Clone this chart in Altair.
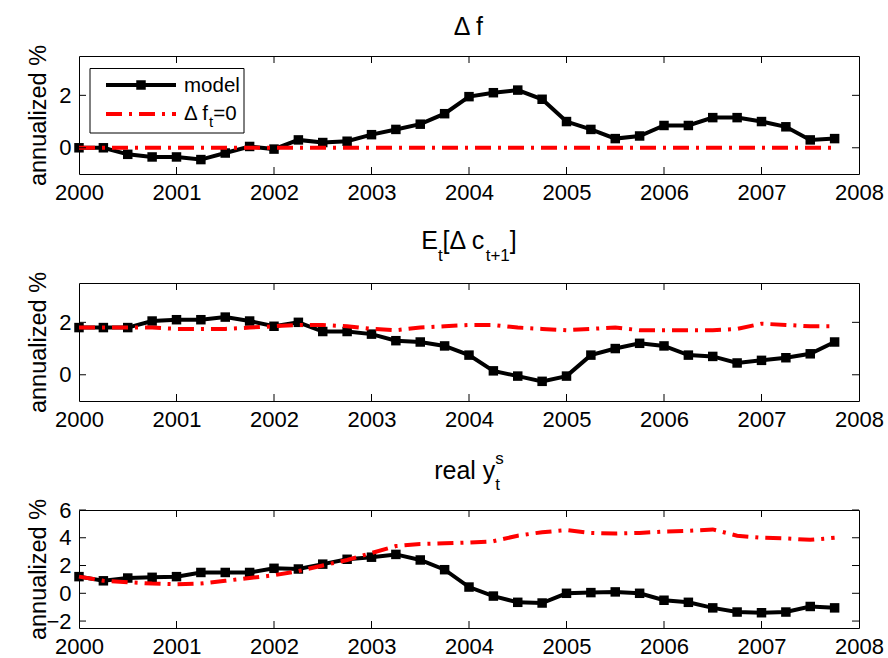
import altair as alt
import pandas as pd

FONT = "Liberation Sans"

quarters = [2000.0, 2000.25, 2000.5, 2000.75, 2001.0, 2001.25, 2001.5, 2001.75,
            2002.0, 2002.25, 2002.5, 2002.75, 2003.0, 2003.25, 2003.5, 2003.75,
            2004.0, 2004.25, 2004.5, 2004.75, 2005.0, 2005.25, 2005.5, 2005.75,
            2006.0, 2006.25, 2006.5, 2006.75, 2007.0, 2007.25, 2007.5, 2007.75]

year_ticks = [2000, 2001, 2002, 2003, 2004, 2005, 2006, 2007, 2008]

# Panel 1: Delta f
df_model = [0.0, 0.0, -0.25, -0.35, -0.35, -0.45, -0.2, 0.05,
            -0.05, 0.3, 0.2, 0.25, 0.5, 0.7, 0.9, 1.3,
            1.95, 2.1, 2.2, 1.85, 1.0, 0.7, 0.35, 0.45,
            0.85, 0.85, 1.15, 1.15, 1.0, 0.8, 0.3, 0.35]
df_zero = [0.0, 0.0, 0.0, 0.0, 0.0, 0.0, 0.0, 0.0,
           0.0, 0.0, 0.0, 0.0, 0.0, 0.0, 0.0, 0.0,
           0.0, 0.0, 0.0, 0.0, 0.0, 0.0, 0.0, 0.0,
           0.0, 0.0, 0.0, 0.0, 0.0, 0.0, 0.0, 0.0]

# Panel 2: E_t[Delta c_{t+1}]
ec_model = [1.8, 1.8, 1.8, 2.05, 2.1, 2.1, 2.2, 2.05,
            1.85, 2.0, 1.65, 1.65, 1.55, 1.3, 1.25, 1.1,
            0.75, 0.15, -0.05, -0.25, -0.05, 0.75, 1.0, 1.2,
            1.1, 0.75, 0.7, 0.45, 0.55, 0.65, 0.8, 1.25]
ec_zero = [1.8, 1.8, 1.8, 1.8, 1.75, 1.75, 1.75, 1.8,
           1.85, 1.9, 1.9, 1.85, 1.75, 1.7, 1.8, 1.85,
           1.9, 1.9, 1.8, 1.75, 1.7, 1.75, 1.8, 1.7,
           1.7, 1.7, 1.7, 1.75, 1.95, 1.9, 1.85, 1.85]

# Panel 3: real y_t^s
ys_model = [1.2, 0.9, 1.1, 1.15, 1.2, 1.5, 1.5, 1.5,
            1.8, 1.75, 2.1, 2.45, 2.6, 2.8, 2.4, 1.7,
            0.45, -0.2, -0.65, -0.7, 0.0, 0.05, 0.1, 0.0,
            -0.5, -0.65, -1.05, -1.35, -1.4, -1.35, -0.95, -1.05]
ys_zero = [1.2, 0.9, 0.8, 0.7, 0.65, 0.7, 0.9, 1.1,
           1.3, 1.6, 2.0, 2.4, 2.9, 3.4, 3.55, 3.6,
           3.65, 3.75, 4.15, 4.4, 4.55, 4.35, 4.3, 4.35,
           4.45, 4.5, 4.6, 4.15, 4.0, 3.95, 3.85, 4.0]

legend_labels = ["model", "\u0394 f", "t", "=0"]

W, H = 780, 118
TICK = 7
MAIN, SUB = 25, 17
LABEL = 22
DASH = [16, 7, 3, 7]
LW = 4

ADV = {"E": .667, "t": .278, "[": .278, "]": .278, "\u0394": .668, " ": .278,
       "c": .5, "+": .584, "1": .556, "r": .333, "e": .556, "a": .556, "l": .222,
       "y": .5, "s": .5, "f": .278, "=": .584, "0": .556}


def twidth(s, size):
    return sum(ADV.get(ch, .556) for ch in s) * size


def title_layers(parts, baseline_y):
    # parts: list of (text, kind); kind "stack" = superscript over subscript at same x
    widths = []
    for txt, kind in parts:
        if kind == "main":
            widths.append(twidth(txt, MAIN))
        elif kind == "stack":
            widths.append(max(twidth(p, SUB) for p in txt))
        else:
            widths.append(twidth(txt, SUB))
    total = sum(widths)
    x = W / 2 - total / 2
    layers = []

    def txtlayer(s, size, xx, yy):
        return alt.Chart(pd.DataFrame({"s": [s]})).mark_text(
            align="left", baseline="alphabetic", font=FONT, fontSize=size, color="black"
        ).encode(text="s:N", x=alt.value(xx), y=alt.value(yy))

    for (txt, kind), w in zip(parts, widths):
        if kind == "main":
            layers.append(txtlayer(txt, MAIN, x, baseline_y))
        elif kind == "sub":
            layers.append(txtlayer(txt, SUB, x, baseline_y + 12))
        elif kind == "stack":
            layers.append(txtlayer(txt[0], SUB, x, baseline_y - 15))
            layers.append(txtlayer(txt[1], SUB, x, baseline_y + 11))
        x += w
    return layers


def panel(model_vals, zero_vals, ydomain, yticks, title_parts, title_y, legend=False, corner=None):
    xsc = alt.Scale(domain=[2000, 2008], nice=False, zero=False)
    ysc = alt.Scale(domain=ydomain, nice=False, zero=False)
    xax = alt.Axis(values=year_ticks, format="d", ticks=False, tickSize=0, domain=False, grid=False,
                   labelFontSize=LABEL, labelFont=FONT, labelColor="black", labelPadding=8,
                   labelFlush=False, labelOverlap=False, title=None)
    yax = alt.Axis(values=yticks, format="d", ticks=False, tickSize=0, domain=False, grid=False,
                   labelFontSize=LABEL, labelFont=FONT, labelColor="black", labelPadding=8,
                   labelOverlap=False, title="annualized %", titleFont=FONT, titleFontSize=23.5,
                   titleFontWeight="normal", titleColor="black", titleAngle=-90, titleX=-34,
                   titleY=H / 2, titleAlign="center", titleBaseline="alphabetic")
    X = alt.X("t:Q", scale=xsc, axis=xax)
    Y = alt.Y("y:Q", scale=ysc, axis=yax)

    dm = pd.DataFrame({"t": quarters, "y": model_vals})
    dz = pd.DataFrame({"t": quarters, "y": zero_vals})

    black = alt.Chart(dm).mark_line(color="black", strokeWidth=LW).encode(x=X, y=Y)
    pts = alt.Chart(dm).mark_point(shape="square", size=90, filled=True, color="black",
                                   opacity=1).encode(x=X, y=Y)
    red = alt.Chart(dz).mark_line(color="#ff0000", strokeWidth=LW, strokeDash=DASH,
                                  strokeCap="butt").encode(x=X, y=Y)

    xt = pd.DataFrame({"t": year_ticks[1:-1]})
    yt = pd.DataFrame({"y": yticks})
    tb = alt.Chart(xt).mark_rule(color="black", strokeWidth=1).encode(
        x=X, y=alt.value(H), y2=alt.value(H - TICK))
    tt = alt.Chart(xt).mark_rule(color="black", strokeWidth=1).encode(
        x=X, y=alt.value(0), y2=alt.value(TICK))
    tl = alt.Chart(yt).mark_rule(color="black", strokeWidth=1).encode(
        y=Y, x=alt.value(0), x2=alt.value(TICK))
    tr = alt.Chart(yt).mark_rule(color="black", strokeWidth=1).encode(
        y=Y, x=alt.value(W), x2=alt.value(W - TICK))

    layers = [black, pts, red, tb, tt, tl, tr]
    layers += title_layers(title_parts, title_y)

    one = pd.DataFrame({"k": [0]})
    if legend:
        box = alt.Chart(one).mark_rect(fill="white", stroke="black", strokeWidth=1).encode(
            x=alt.value(11), x2=alt.value(165), y=alt.value(12.5), y2=alt.value(77))
        l1 = alt.Chart(one).mark_rule(color="black", strokeWidth=LW).encode(
            x=alt.value(27), x2=alt.value(97), y=alt.value(29))
        l1p = alt.Chart(one).mark_point(shape="square", size=90, filled=True, color="black",
                                        opacity=1).encode(x=alt.value(62), y=alt.value(29))
        l2 = alt.Chart(one).mark_rule(color="#ff0000", strokeWidth=LW, strokeDash=DASH,
                                      strokeCap="butt").encode(
            x=alt.value(27), x2=alt.value(97), y=alt.value(58))
        LF = 20.5
        t1 = alt.Chart(pd.DataFrame({"s": [legend_labels[0]]})).mark_text(
            align="left", baseline="alphabetic", font=FONT, fontSize=LF, color="black").encode(
            text="s:N", x=alt.value(105), y=alt.value(36))
        x0 = 105
        t2 = alt.Chart(pd.DataFrame({"s": [legend_labels[1]]})).mark_text(
            align="left", baseline="alphabetic", font=FONT, fontSize=LF, color="black").encode(
            text="s:N", x=alt.value(x0), y=alt.value(64))
        x1 = x0 + twidth(legend_labels[1], LF)
        t3 = alt.Chart(pd.DataFrame({"s": [legend_labels[2]]})).mark_text(
            align="left", baseline="alphabetic", font=FONT, fontSize=15, color="black").encode(
            text="s:N", x=alt.value(x1), y=alt.value(71))
        x2 = x1 + twidth(legend_labels[2], 15)
        t4 = alt.Chart(pd.DataFrame({"s": [legend_labels[3]]})).mark_text(
            align="left", baseline="alphabetic", font=FONT, fontSize=LF, color="black").encode(
            text="s:N", x=alt.value(x2), y=alt.value(64))
        layers += [box, l1, l1p, l2, t1, t2, t3, t4]
    if corner is not None:
        cx, cy = corner
        layers.append(alt.Chart(one).mark_rule(color="white", strokeWidth=1).encode(
            x=alt.value(cx), x2=alt.value(cx + 1), y=alt.value(cy), y2=alt.value(cy + 1)))

    return alt.layer(*layers).properties(width=W, height=H)


p1 = panel(df_model, df_zero, [-1, 3.5], [0, 2], [("\u0394 f", "main")], -21.5,
           legend=True, corner=(-78, -54.5))
p2 = panel(ec_model, ec_zero, [-1, 3.5], [0, 2],
           [("E", "main"), ("t", "sub"), ("[\u0394 c", "main"), ("t+1", "sub"), ("]", "main")], -34)
p3 = panel(ys_model, ys_zero, [-2.5, 6], [-2, 0, 2, 4, 6],
           [("real y", "main"), (("s", "t"), "stack")], -31.5)

chart = alt.vconcat(p1, p2, p3, spacing=109, bounds="flush").properties(
    padding=0, background="white"
).configure_view(stroke="black", strokeWidth=1)

chart.save("out.html", embed_options={"renderer": "svg", "actions": False})
